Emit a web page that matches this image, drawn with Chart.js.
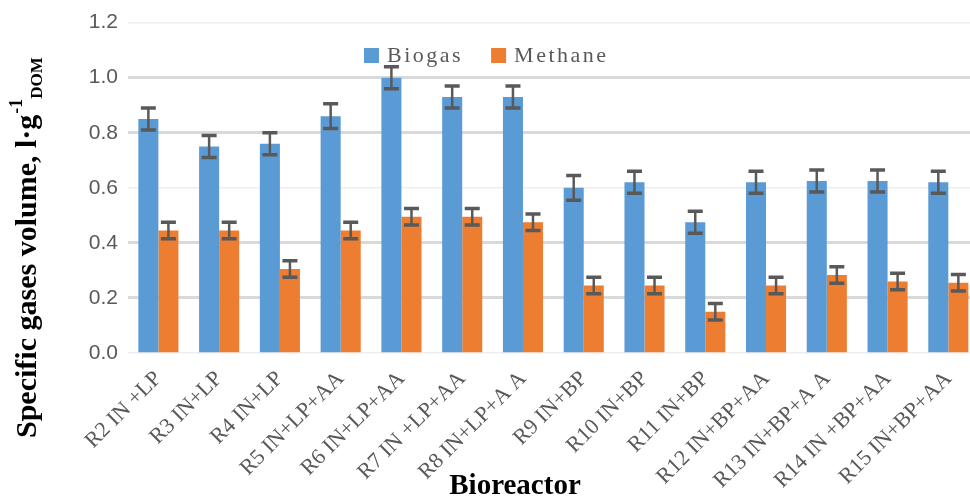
<!DOCTYPE html>
<html><head><meta charset="utf-8">
<script src="https://cdn.jsdelivr.net/npm/chart.js@4"></script>
<style>html,body{margin:0;padding:0;overflow:hidden;background:#fff}#wrap{width:980px;height:499px;position:relative}</style>
</head><body><div id="wrap"><canvas id="c" width="980" height="499"></canvas></div>
<script>
const categories = ["R2 IN +LP","R3 IN+LP","R4 IN+LP","R5 IN+LP+AA","R6 IN+LP+AA","R7 IN +LP+AA","R8 IN+LP+A A","R9 IN+BP","R10 IN+BP","R11 IN+BP","R12 IN+BP+AA","R13 IN+BP+A A","R14 IN +BP+AA","R15 IN+BP+AA"];
const biogas = [0.85,0.75,0.76,0.86,1.00,0.93,0.93,0.60,0.62,0.475,0.62,0.625,0.625,0.62];
const biogasErr = [0.04,0.04,0.04,0.045,0.04,0.04,0.04,0.045,0.04,0.04,0.04,0.04,0.04,0.04];
const methane = [0.445,0.445,0.305,0.445,0.495,0.495,0.475,0.245,0.245,0.15,0.245,0.283,0.26,0.255];
const methaneErr = [0.03,0.03,0.03,0.03,0.03,0.03,0.03,0.03,0.03,0.03,0.03,0.03,0.03,0.03];
const yTicks = [0,0.2,0.4,0.6,0.8,1.0,1.2];
const seriesNames = ["Biogas","Methane"];
const yTitle = "Specific gases volume, l\u00B7g";
const yTitleSup = "-1";
const yTitleSub = "DOM";
const xTitle = "Bioreactor";

const errors = [biogasErr, methaneErr];
const thickGrid = [0.2,0.4,0.8,1.0];

const errPlugin = {
  id: 'err',
  afterDatasetsDraw(chart) {
    const ctx = chart.ctx, y = chart.scales.y;
    ctx.save();
    ctx.strokeStyle = '#595959';
    chart.data.datasets.forEach((ds, di) => {
      const meta = chart.getDatasetMeta(di);
      meta.data.forEach((bar, i) => {
        const v = ds.data[i], e = errors[di][i];
        const yt = y.getPixelForValue(v + e), yb = y.getPixelForValue(v - e);
        const x = bar.x;
        ctx.lineWidth = 2.5;
        ctx.beginPath(); ctx.moveTo(x, yt); ctx.lineTo(x, yb); ctx.stroke();
        ctx.lineWidth = 3.5;
        ctx.beginPath();
        ctx.moveTo(x - 7.5, yt); ctx.lineTo(x + 7.5, yt);
        ctx.moveTo(x - 7.5, yb); ctx.lineTo(x + 7.5, yb);
        ctx.stroke();
      });
    });
    ctx.restore();
  }
};

const textPlugin = {
  id: 'texts',
  afterDraw(chart) {
    const ctx = chart.ctx;
    ctx.save();
    ctx.fillStyle = '#000';
    ctx.translate(36, 438);
    ctx.rotate(-Math.PI / 2);
    ctx.textBaseline = 'alphabetic';
    ctx.textAlign = 'left';
    ctx.font = 'bold 30px "Liberation Serif"';
    ctx.fillText(yTitle, 0, 0);
    let w = ctx.measureText(yTitle).width;
    ctx.font = 'bold 18px "Liberation Serif"';
    ctx.fillText(yTitleSup, w + 1, -14);
    w += ctx.measureText(yTitleSup).width + 1;
    ctx.font = 'bold 17px "Liberation Serif"';
    ctx.fillText(yTitleSub, w, 6);
    ctx.restore();

    ctx.save();
    ctx.fillStyle = '#000';
    ctx.font = 'bold 29px "Liberation Serif"';
    ctx.textAlign = 'center';
    ctx.textBaseline = 'alphabetic';
    ctx.fillText(xTitle, 515, 494);
    ctx.restore();

    ctx.save();
    ctx.font = '22px "Liberation Serif"';
    ctx.letterSpacing = '2.5px';
    ctx.textBaseline = 'middle';
    ctx.textAlign = 'left';
    let lx = 364;
    chart.data.datasets.forEach((ds) => {
      ctx.fillStyle = ds.backgroundColor;
      ctx.fillRect(lx, 48, 15, 15);
      ctx.fillStyle = '#595959';
      ctx.fillText(ds.label, lx + 23, 56);
      lx += 23 + ctx.measureText(ds.label).width + 28;
    });
    ctx.restore();
  }
};

new Chart(document.getElementById('c'), {
  type: 'bar',
  data: {
    labels: categories,
    datasets: [
      { label: seriesNames[0], data: biogas, backgroundColor: '#5B9BD5', categoryPercentage: 0.66, barPercentage: 1.0 },
      { label: seriesNames[1], data: methane, backgroundColor: '#ED7D31', categoryPercentage: 0.66, barPercentage: 1.0 }
    ]
  },
  options: {
    responsive: false,
    animation: false,
    devicePixelRatio: 1,
    layout: { padding: { top: 21, right: 0, left: 0, bottom: 0 } },
    plugins: { legend: { display: false }, tooltip: { enabled: false } },
    scales: {
      x: {
        grid: { display: false, drawTicks: false },
        border: { display: false },
        ticks: {
          autoSkip: false, maxRotation: 45, minRotation: 45, padding: 13,
          color: '#595959', font: { family: '"Liberation Serif"', size: 22 }
        },
        afterFit(s) { s.height = 146; }
      },
      y: {
        min: 0, max: 1.2,
        afterBuildTicks(s) { s.ticks = yTicks.map(v => ({ value: v })); },
        grid: {
          drawTicks: false,
          color: (c) => thickGrid.some(t => Math.abs(t - c.tick.value) < 1e-6) ? '#d9d9d9' : '#eeeeee',
          lineWidth: (c) => thickGrid.some(t => Math.abs(t - c.tick.value) < 1e-6) ? 3 : 1.5
        },
        border: { display: false },
        ticks: {
          padding: 10, color: '#595959',
          font: { family: '"Liberation Sans"', size: 21 },
          callback: (v) => Number(v).toFixed(1)
        },
        afterFit(s) { s.width = 128; }
      }
    }
  },
  plugins: [errPlugin, textPlugin]
});
</script>
</body></html>
